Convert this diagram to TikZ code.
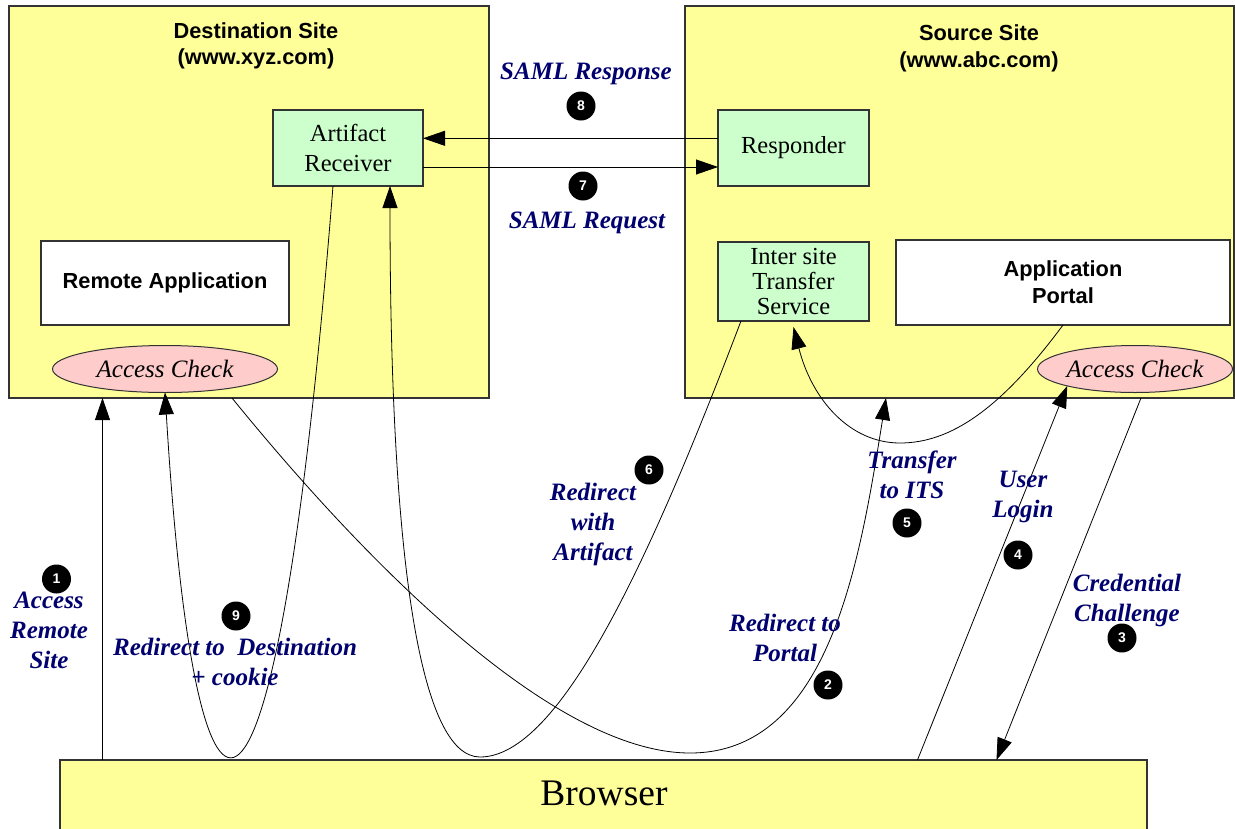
\documentclass[tikz,border=0pt]{standalone}
\usepackage{fontspec}
\setmainfont{Liberation Serif}
\setsansfont{Liberation Sans}
\usetikzlibrary{arrows.meta,shapes.geometric}
\definecolor{siteyellow}{RGB}{255,255,153}
\definecolor{svcgreen}{RGB}{204,255,204}
\definecolor{chkpink}{RGB}{255,204,204}
\definecolor{labelnavy}{RGB}{0,0,110}

\begin{document}
\begin{tikzpicture}[x=1pt,y=1pt,line width=0.8pt,>={Triangle[length=22pt,width=15pt]}]
    \tikzset{
        site/.style={draw=black!80,fill=siteyellow,line width=1.2pt,inner sep=0pt,outer sep=0pt},
        svc/.style={
            draw=black!80,fill=svcgreen,line width=1.2pt,inner sep=0pt,outer sep=0pt,
            align=center,font=\fontsize{24.5}{30}\selectfont
        },
        app/.style={
            draw=black!80,fill=white,line width=1.2pt,inner sep=0pt,outer sep=0pt,
            align=center,font=\sffamily\bfseries\fontsize{21.8}{27}\selectfont
        },
        chk/.style={
            ellipse,draw=black!80,fill=chkpink,line width=1pt,inner sep=0pt,outer sep=0pt,
            minimum height=47pt,font=\itshape\fontsize{25}{30}\selectfont
        },
        sitetitle/.style={align=center,font=\sffamily\bfseries\fontsize{21.8}{26.5}\selectfont},
        flowlabel/.style={text=labelnavy,align=center,font=\bfseries\itshape\fontsize{25}{30}\selectfont},
        stepnum/.style={
            circle,fill=black,text=white,inner sep=0pt,minimum size=29pt,
            font=\sffamily\bfseries\fontsize{14}{14}\selectfont
        }
    }
    \useasboundingbox (0,0) rectangle (1235,-828);

    \node[site,minimum width=480pt,minimum height=392pt] (dst) at (249,-202) {};
    \node[site,minimum width=549pt,minimum height=392pt] (src) at (959.5,-202) {};
    \node[site,minimum width=1087pt,minimum height=90pt] (brw) at (603.5,-805) {};
    \node[font=\fontsize{37.5}{40}\selectfont] (brwtext) at (604,-793) {Browser};

    \node[sitetitle] (dsttitle) at (256,-46) {Destination Site\\(www.xyz.com)};
    \node[sitetitle] (srctitle) at (979,-48.5) {Source Site\\(www.abc.com)};

    \node[svc,minimum width=150pt,minimum height=76pt] (ar) at (348,-148) {Artifact\\Receiver};
    \node[svc,minimum width=151pt,minimum height=76pt] (resp) at (793.5,-148) {Responder};
    \node[svc,minimum width=151pt,minimum height=79pt,font=\fontsize{24.5}{25}\selectfont] (its) at (793.5,-281.5) {Inter site\\Transfer\\Service};

    \node[app,minimum width=248pt,minimum height=84pt] (rapp) at (165,-283) {Remote Application};
    \node[app,minimum width=334pt,minimum height=85pt] (aportal) at (1063,-282.5) {Application\\Portal};

    \node[chk,minimum width=225pt] (acl) at (165,-369) {Access Check};
    \node[chk,minimum width=195pt] (acr) at (1135,-369) {Access Check};

    \draw[->] ([yshift=9.7]resp.west) -- ([yshift=9.7]ar.east);
    \draw[->] ([yshift=-19]ar.east) -- ([yshift=-19]resp.west);
    \draw[->] ([xshift=42.5]brw.north west) -- ([xshift=42.5]brw.north west |- dst.south);
    \draw[->] ([xshift=-15]ar.south) .. controls (276,-905) and (196,-905) .. (acl.south);
    \draw[->] ([xshift=-17]dst.south) .. controls (380,-580) and (560,-753) .. (690,-753)
        .. controls (830,-753) and (860,-560) .. ([xshift=-73.5]src.south);
    \draw[->] ([xshift=-52.5]its.south) .. controls (650,-560) and (560,-757) .. (480,-757)
        .. controls (420,-757) and (390,-560) .. ([xshift=42]ar.south);
    \draw[->] (aportal.south) .. controls (1000,-410) and (950,-443) .. (900,-443)
        .. controls (850,-443) and (812,-400) .. ([yshift=-6]its.south);
    \draw[->] ([xshift=314]brw.north) -- (acr.-166);
    \draw[->] ([xshift=181.5]src.south) -- ([xshift=393]brw.north);

    \node[flowlabel] (lresp) at (586,-74) {SAML Response};
    \node[stepnum] (n8) at (581,-106) {8};
    \node[stepnum] (n7) at (583,-186) {7};
    \node[flowlabel] (lreq) at (587,-223) {SAML Request};
    \node[stepnum] (n1) at (56.5,-579) {1};
    \node[flowlabel] (lacc) at (49,-630) {Access\\Remote\\Site};
    \node[stepnum] (n9) at (236,-616) {9};
    \node[flowlabel] (lcookie) at (235,-662) {Redirect to~ Destination\\+ cookie};
    \node[stepnum] (n6) at (649,-470) {6};
    \node[flowlabel] (lart) at (593,-524) {Redirect\\with\\Artifact};
    \node[flowlabel] (lportal) at (785,-638) {Redirect to\\Portal};
    \node[stepnum] (n2) at (828,-685) {2};
    \node[flowlabel] (lits) at (912,-475) {Transfer\\to ITS};
    \node[stepnum] (n5) at (907,-523) {5};
    \node[flowlabel] (llogin) at (1023,-497) {User\\Login};
    \node[stepnum] (n4) at (1018,-555) {4};
    \node[flowlabel] (lcred) at (1127,-600) {Credential\\Challenge};
    \node[stepnum] (n3) at (1122,-638) {3};
\end{tikzpicture}
\end{document}
